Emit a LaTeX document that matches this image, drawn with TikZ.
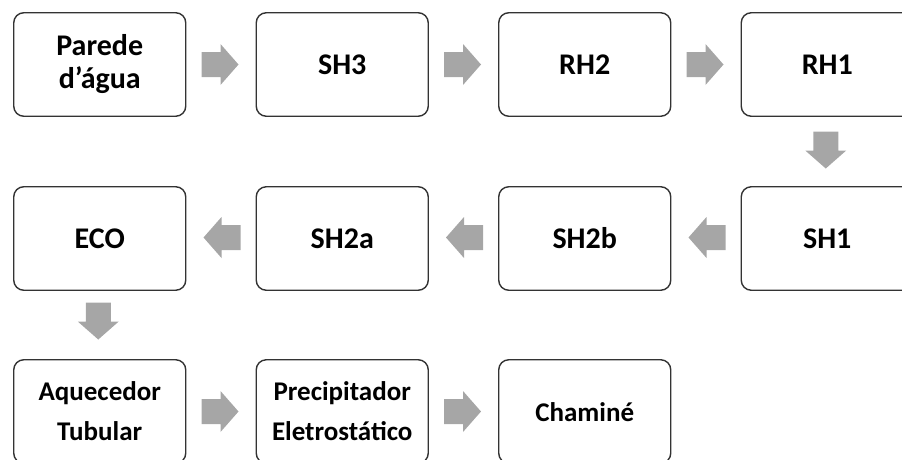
\documentclass[tikz,border=0pt]{standalone}
\usepackage{fontspec}
\setmainfont{Carlito}
\usetikzlibrary{calc}
\begin{document}
\begin{tikzpicture}[x=1pt,y=-1pt,
  stage/.style={draw=black!80, line width=1.4pt, rounded corners=10pt,
    minimum width=172pt, minimum height=103.5pt, fill=white,
    font=\bfseries\fontsize{30}{33}\selectfont, align=center, inner sep=0pt},
  oneline/.style={text height=19.3pt, text depth=0pt},
  small/.style={font=\bfseries\fontsize{27}{33}\selectfont},
  pics/blockarrow/.style={code={
    \fill[black!35] (-18.5,-12.5) -- (0.5,-12.5) -- (0.5,-20.5) -- (18.5,0)
      -- (0.5,20.5) -- (0.5,12.5) -- (-18.5,12.5) -- cycle;}}]
\useasboundingbox (0,0) rectangle (902,459);
% row 1
\node[stage] (pa) at (99.75,64.5) {Parede\\d’água};
\node[stage,oneline] (sh3) at (342.25,64.5) {SH3};
\node[stage,oneline] (rh2) at (584.75,64.5) {RH2};
\node[stage,oneline] (rh1) at (827.25,64.5) {RH1};
% row 2
\node[stage,oneline] (eco) at (99.75,238.5) {ECO};
\node[stage,oneline] (sh2a) at (342.25,238.5) {SH2a};
\node[stage,oneline] (sh2b) at (584.75,238.5) {SH2b};
\node[stage,oneline] (sh1) at (827.25,238.5) {SH1};
% row 3
\node[stage,small] (aq) at (99.75,411.5) {Aquecedor\\[7pt]Tubular};
\node[stage,small] (pe) at (342.25,411.5) {Precipitador\\[7pt]Eletrostático};
\node[stage,small,oneline] (ch) at (584.75,411.5) {Chaminé};
% arrows
\pic at ($(pa.east)!0.5!(sh3.west)+(-1,0)$) {blockarrow};
\pic at ($(sh3.east)!0.5!(rh2.west)+(-1,0)$) {blockarrow};
\pic at ($(rh2.east)!0.5!(rh1.west)+(-1,0)$) {blockarrow};
\pic[rotate=-90] at ($(rh1.south)!0.5!(sh1.north)+(-1.5,-1.5)$) {blockarrow};
\pic[rotate=180] at ($(sh1.west)!0.5!(sh2b.east)+(1,-1)$) {blockarrow};
\pic[rotate=180] at ($(sh2b.west)!0.5!(sh2a.east)+(1,-1)$) {blockarrow};
\pic[rotate=180] at ($(sh2a.west)!0.5!(eco.east)+(1,-1)$) {blockarrow};
\pic[rotate=-90] at ($(eco.south)!0.5!(aq.north)+(-1.5,-4)$) {blockarrow};
\pic at ($(aq.east)!0.5!(pe.west)+(-1,0)$) {blockarrow};
\pic at ($(pe.east)!0.5!(ch.west)+(-1,0)$) {blockarrow};
\end{tikzpicture}
\end{document}
